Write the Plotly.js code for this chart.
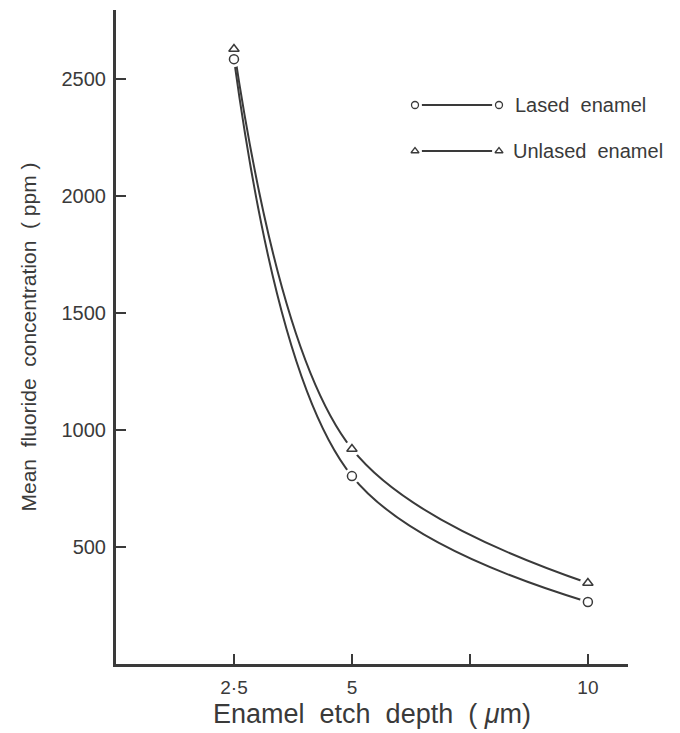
<!DOCTYPE html>
<html><head><meta charset="utf-8">
<script src="https://cdn.plot.ly/plotly-3.0.1.min.js"></script>
<style>html,body{margin:0;padding:0;background:#fff}#c{width:680px;height:733px}</style>
</head><body><div id="c"></div>
<script>
const depth = [2.5, 5, 10];
const lased = [2585, 803, 265];
const unlased = [2628, 919, 346];
const xTickVals = [2.5, 5, 7.5, 10];
const xTickText = ['2·5', '5', '', '10'];
const yTickVals = [500, 1000, 1500, 2000, 2500];
const seriesNames = ['Lased&nbsp; enamel', 'Unlased&nbsp; enamel'];

const ink = '#3a3a3a';
const lineTrace = (y) => ({x: depth, y: y, mode: 'lines', line: {color: ink, width: 2, shape: 'spline', smoothing: 1.0}, showlegend: false, hoverinfo: 'skip'});
const halo = (y) => ({x: depth, y: y, mode: 'markers', marker: {symbol: 'circle', size: 16, color: '#fff', line: {width: 0}}, showlegend: false, hoverinfo: 'skip'});
const marks = (y, sym) => ({x: depth, y: y, mode: 'markers', marker: {symbol: sym, size: 9, color: '#fff', line: {color: ink, width: 1.5}}, showlegend: false});

// legend glyphs on a pixel-like overlay axis
const legX = [415, 499];
const legendTraces = [
  {x: legX, y: [105, 105], xaxis: 'x2', yaxis: 'y2', mode: 'lines', line: {color: ink, width: 2}, showlegend: false, hoverinfo: 'skip'},
  {x: legX, y: [151, 151], xaxis: 'x2', yaxis: 'y2', mode: 'lines', line: {color: ink, width: 2}, showlegend: false, hoverinfo: 'skip'},
  {x: legX, y: [105, 105], xaxis: 'x2', yaxis: 'y2', mode: 'markers', marker: {symbol: 'circle', size: 14, color: '#fff'}, showlegend: false, hoverinfo: 'skip'},
  {x: legX, y: [151, 151], xaxis: 'x2', yaxis: 'y2', mode: 'markers', marker: {symbol: 'circle', size: 14, color: '#fff'}, showlegend: false, hoverinfo: 'skip'},
  {x: legX, y: [105, 105], xaxis: 'x2', yaxis: 'y2', mode: 'markers', marker: {symbol: 'circle', size: 7, color: '#fff', line: {color: ink, width: 1.3}}, showlegend: false, hoverinfo: 'skip'},
  {x: legX, y: [151, 151], xaxis: 'x2', yaxis: 'y2', mode: 'markers', marker: {symbol: 'triangle-up', size: 7, color: '#fff', line: {color: ink, width: 1.3}}, showlegend: false, hoverinfo: 'skip'}
];

const data = [
  lineTrace(lased), lineTrace(unlased),
  halo(lased), halo(unlased),
  marks(lased, 'circle'), marks(unlased, 'triangle-up'),
  ...legendTraces
];

const fam = 'Liberation Sans, Arial, sans-serif';
const layout = {
  width: 680, height: 733,
  margin: {l: 116, r: 52, t: 10, b: 69},
  paper_bgcolor: '#fff', plot_bgcolor: 'rgba(0,0,0,0)',
  font: {family: fam, color: ink},
  showlegend: false,
  xaxis: {
    range: [0, 10.85], tickvals: xTickVals, ticktext: xTickText,
    ticks: 'inside', ticklen: 10, tickwidth: 1.5, tickcolor: ink,
    showline: true, linecolor: ink, linewidth: 3, showgrid: false, zeroline: false,
    tickfont: {size: 19, family: fam, color: ink}, ticklabelstandoff: 4,
    title: {text: 'Enamel&nbsp; etch&nbsp; depth&nbsp; (&nbsp;<i>μ</i>m)', font: {size: 27, family: fam, color: ink}, standoff: 8}
  },
  yaxis: {
    range: [0, 2795], tickvals: yTickVals,
    ticks: 'inside', ticklen: 10, tickwidth: 1.5, tickcolor: ink,
    showline: true, linecolor: ink, linewidth: 3, showgrid: false, zeroline: false,
    tickfont: {size: 20, family: fam, color: ink}, ticklabelstandoff: 3,
    title: {text: 'Mean&nbsp; fluoride&nbsp; concentration&nbsp; (&nbsp;ppm&nbsp;)', font: {size: 21, family: fam, color: ink}, standoff: 20}
  },
  xaxis2: {overlaying: 'x', range: [116, 628], visible: false, fixedrange: true, anchor: 'y2'},
  yaxis2: {overlaying: 'y', range: [664, 10], visible: false, fixedrange: true, anchor: 'x2'},
  annotations: [
    {xref: 'x2', yref: 'y2', x: 513, y: 105, text: seriesNames[0], showarrow: false, xanchor: 'left', font: {size: 20, family: fam, color: ink}},
    {xref: 'x2', yref: 'y2', x: 511, y: 151, text: seriesNames[1], showarrow: false, xanchor: 'left', font: {size: 20, family: fam, color: ink}}
  ]
};
Plotly.newPlot('c', data, layout, {displayModeBar: false, staticPlot: true});
</script></body></html>
